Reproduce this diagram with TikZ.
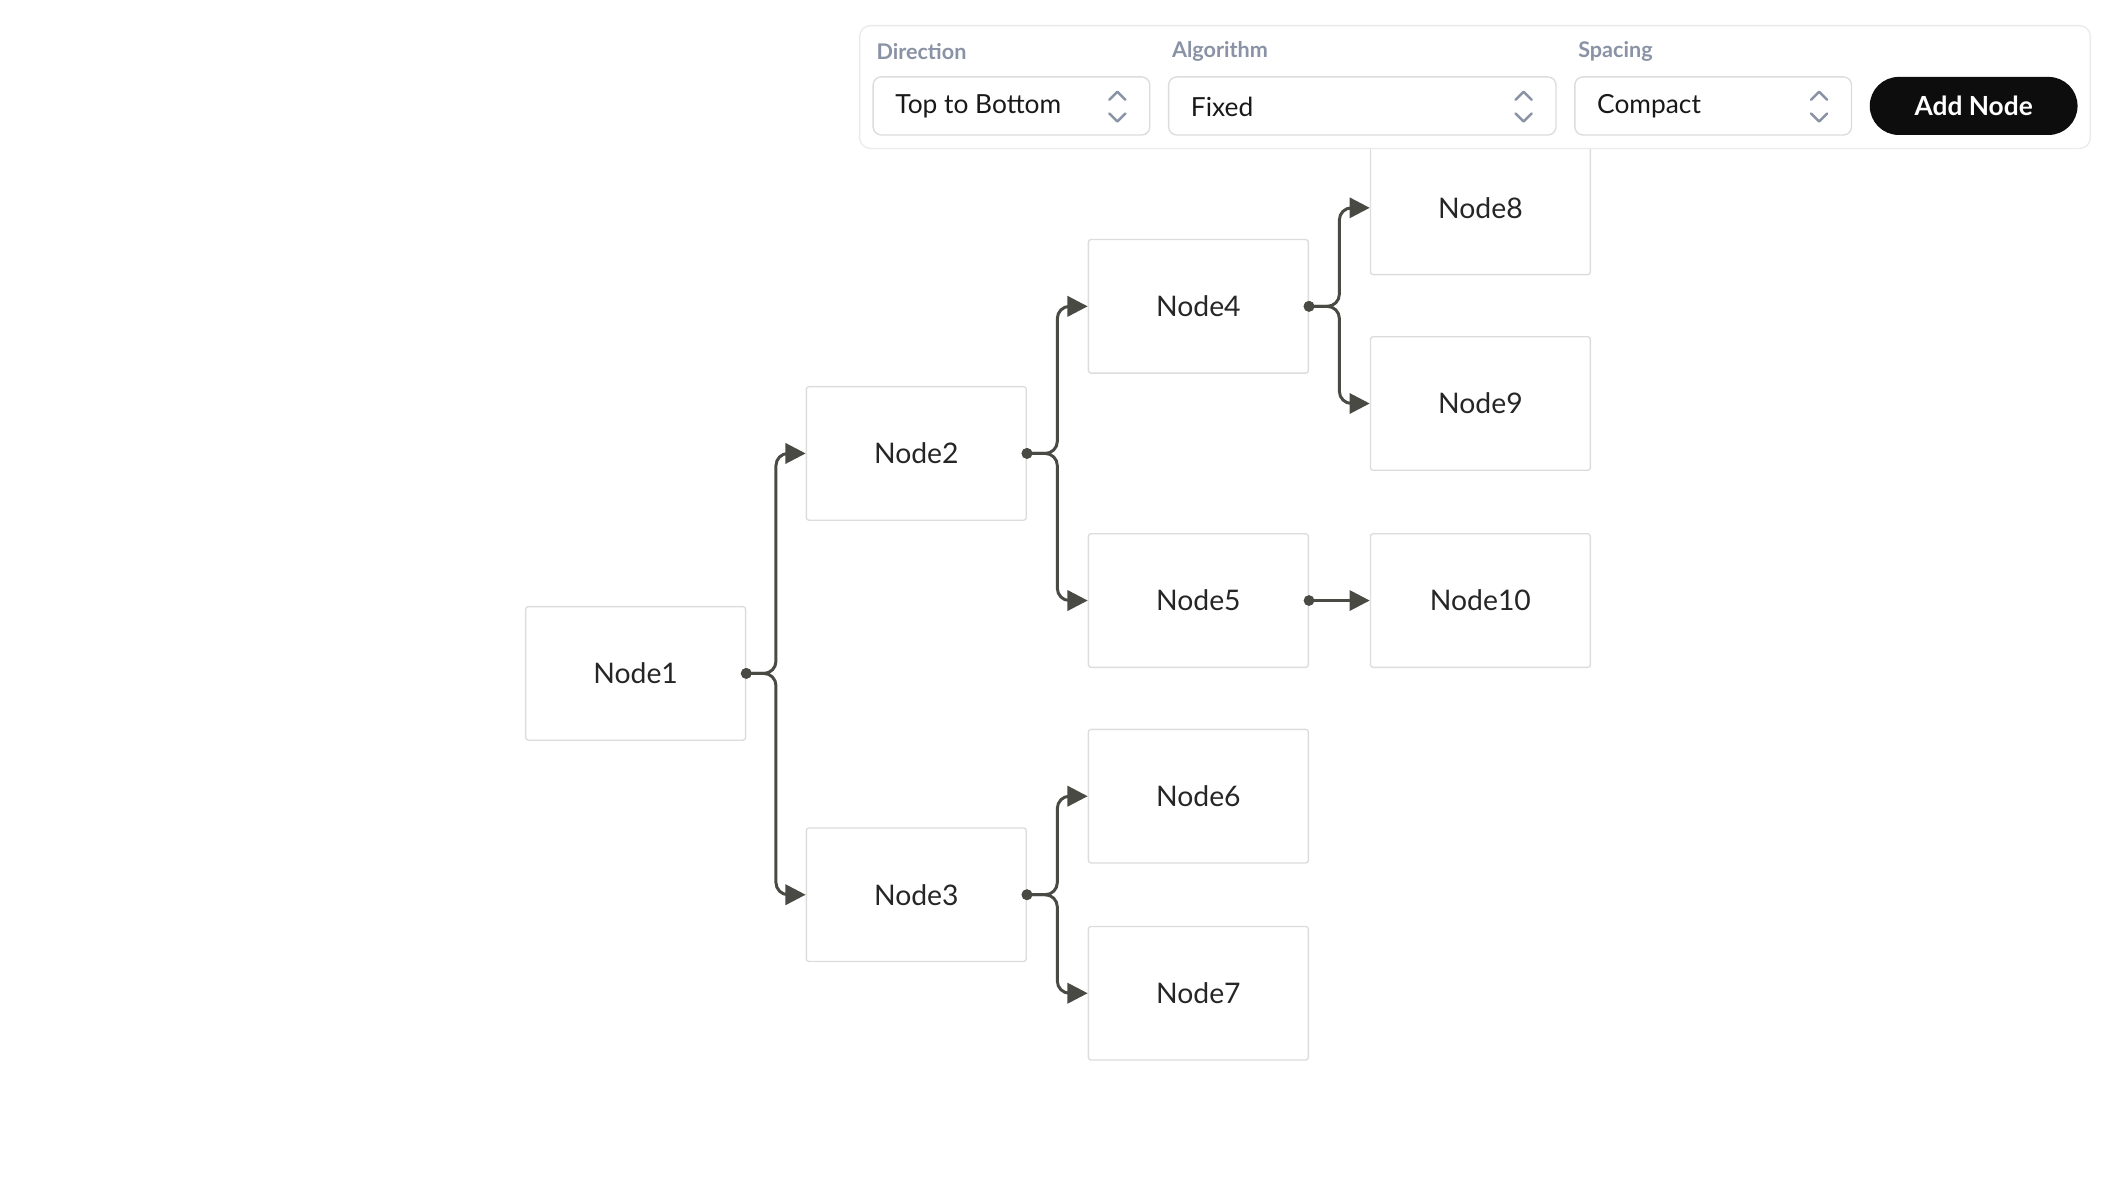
\documentclass[tikz,border=0pt]{standalone}
\usepackage{fontspec}
\setmainfont{Lato}
\usetikzlibrary{arrows.meta,calc}
\definecolor{edge}{HTML}{4A4A44}
\definecolor{bord}{HTML}{DCDCDC}
\definecolor{lab}{HTML}{8A93A5}
\begin{document}
\begin{tikzpicture}[x=1pt,y=-1pt,
  box/.style={draw=bord,line width=1pt,fill=white,minimum width=163pt,minimum height=99pt,rounded corners=2pt,font=\fontsize{21}{24}\selectfont,text=black!85},
  con/.style={draw=edge,line width=2.2pt,rounded corners=9pt,-{Triangle[length=15pt,width=15pt]}},
  sel/.style={draw=bord,line width=1pt,fill=white,rounded corners=6pt},
  lbl/.style={anchor=west,text=lab,font=\fontsize{16}{18}\selectfont\bfseries},
  seltxt/.style={anchor=west,text=black!90,font=\fontsize{19.5}{22}\selectfont},
  chev/.style={draw=lab,line width=1.8pt,line cap=round,line join=round}]
\useasboundingbox (0,0) rectangle (1568,889);
\node[box] (n1) at (471,499) {Node1};
\node[box] (n2) at (679,336) {Node2};
\node[box] (n3) at (679,663) {Node3};
\node[box] (n4) at (888,227) {Node4};
\node[box] (n5) at (888,445) {Node5};
\node[box] (n6) at (888,590) {Node6};
\node[box] (n7) at (888,736) {Node7};
\node[box] (n8) at (1097,154) {Node8};
\node[box] (n9) at (1097,299) {Node9};
\node[box] (n10) at (1097,445) {Node10};
\foreach \a/\b in {n1/n2,n1/n3,n2/n4,n2/n5,n3/n6,n3/n7,n4/n8,n4/n9}{
  \draw[con] (\a.east) -| ($(\a.east)!0.5!(\b.west)$) |- (\b.west);
  \fill[edge] (\a.east) circle (4pt);
}
\draw[con] (n5.east) -- (n10.west);
\fill[edge] (n5.east) circle (4pt);
% toolbar
\node[draw=black!8,line width=1pt,fill=white,rounded corners=8pt,minimum width=912pt,minimum height=91pt] (bar) at (1093,64.5) {};
\node[lbl] (l1) at (646,38) {Direction};
\node[lbl] (l2) at (865,38) {Algorithm};
\node[lbl] (l3) at (1166,38) {Spacing};
\node[sel,minimum width=205pt,minimum height=43pt] (s1) at (749.5,78.5) {};
\node[sel,minimum width=287pt,minimum height=43pt] (s2) at (1009.5,78.5) {};
\node[sel,minimum width=205pt,minimum height=43pt] (s3) at (1269.5,78.5) {};
\node[seltxt] (t1) at (660,79) {Top to Bottom};
\node[seltxt] (t2) at (879,79) {Fixed};
\node[seltxt] (t3) at (1180,79) {Compact};
\foreach \x/\n in {828/c1,1129/c2,1348/c3}{
  \coordinate (\n) at (\x,79);
  \draw[chev] ($(\n)+(-6,-5)$) -- ($(\n)+(0,-11)$) -- ($(\n)+(6,-5)$);
  \draw[chev] ($(\n)+(-6,5)$) -- ($(\n)+(0,11)$) -- ($(\n)+(6,5)$);
}
\node[fill=black!95,rounded corners=21.5pt,minimum width=154pt,minimum height=43pt,text=white,font=\fontsize{19.5}{22}\selectfont\bfseries] (btn) at (1462.5,78.5) {Add Node};
\end{tikzpicture}
\end{document}
